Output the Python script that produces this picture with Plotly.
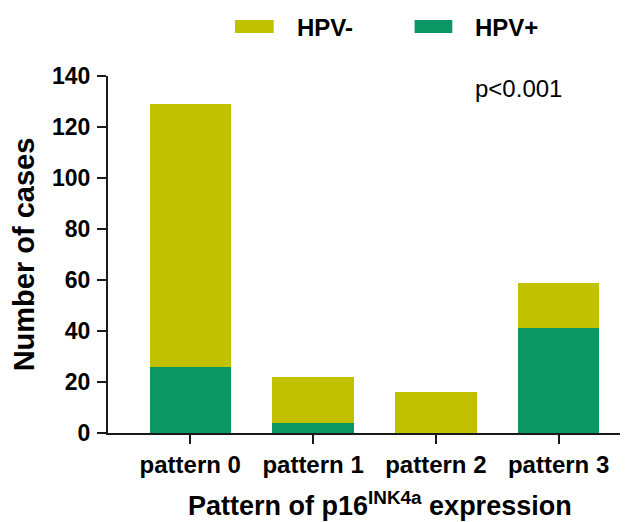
import plotly.graph_objects as go

categories = ["pattern 0", "pattern 1", "pattern 2", "pattern 3"]
hpv_pos = [26, 4, 0, 41]
hpv_neg = [103, 18, 16, 18]
series_names = ["HPV-", "HPV+"]
y_ticks = [0, 20, 40, 60, 80, 100, 120, 140]

col_neg = "#c2c100"
col_pos = "#0b9664"
FONT = "Liberation Sans, Arial, sans-serif"

fig = go.Figure()
fig.add_trace(go.Bar(x=categories, y=hpv_pos, name=series_names[1], marker=dict(color=col_pos, line=dict(width=0)), showlegend=False))
fig.add_trace(go.Bar(x=categories, y=hpv_neg, name=series_names[0], marker=dict(color=col_neg, line=dict(width=0)), showlegend=False))

OFF = 8  # page body margin
W, H = 635 - OFF, 522 - OFF
L, R, T, B = 104 - OFF, 15, 76 - OFF, 89
pw, ph = W - L - R, H - T - B

def px(x):  # screen pixel -> paper fraction
    return (x - OFF - L) / pw

def py(y):
    return (H - B - (y - OFF)) / ph

# custom legend
legend_items = [(232, 271, 292, series_names[0], col_neg), (413, 451, 472, series_names[1], col_pos)]
for x0, x1, tx, name, col in legend_items:
    fig.add_shape(type="rect", xref="paper", yref="paper", x0=px(x0), x1=px(x1), y0=py(33), y1=py(20),
                  fillcolor=col, line=dict(width=0))
    fig.add_annotation(xref="paper", yref="paper", x=px(tx), y=py(27), xanchor="left", yanchor="middle",
                       text=name, showarrow=False, font=dict(family=FONT, size=24, color="black", weight="bold"))

fig.add_annotation(x=2.30, y=135, xref="x", yref="y", xanchor="left", yanchor="middle", text="p<0.001",
                   showarrow=False, font=dict(family=FONT, size=24, color="black"))

fig.add_annotation(xref="paper", yref="paper", x=px(378), y=py(504), xanchor="center", yanchor="middle",
                   text="Pattern of p16<sup>INK4a</sup> expression", showarrow=False,
                   font=dict(family=FONT, size=27, color="black", weight="bold"))

fig.update_layout(
    barmode="stack",
    bargap=0.337,
    width=W, height=H,
    margin=dict(l=L, r=R, t=T, b=B),
    plot_bgcolor="white", paper_bgcolor="white",
    font=dict(family=FONT, color="black"),
)
fig.update_xaxes(range=[-0.67, 3.5], showline=True, linecolor="#1a1a1a", linewidth=2,
                 ticks="outside", ticklen=9, tickwidth=2, tickcolor="#1a1a1a",
                 tickfont=dict(family=FONT, size=24, color="black", weight="bold"),
                 showgrid=False, zeroline=False)
fig.update_yaxes(range=[0, 140], tickvals=y_ticks, showline=True, linecolor="#1a1a1a", linewidth=2,
                 ticks="outside", ticklen=9, tickwidth=2, tickcolor="#1a1a1a",
                 tickfont=dict(family=FONT, size=23, color="black", weight="bold"),
                 ticklabelstandoff=2,
                 showgrid=False, zeroline=False,
                 title=dict(text="Number of cases", font=dict(family=FONT, size=29, color="black", weight="bold"), standoff=12))

fig.write_html("out.html")
